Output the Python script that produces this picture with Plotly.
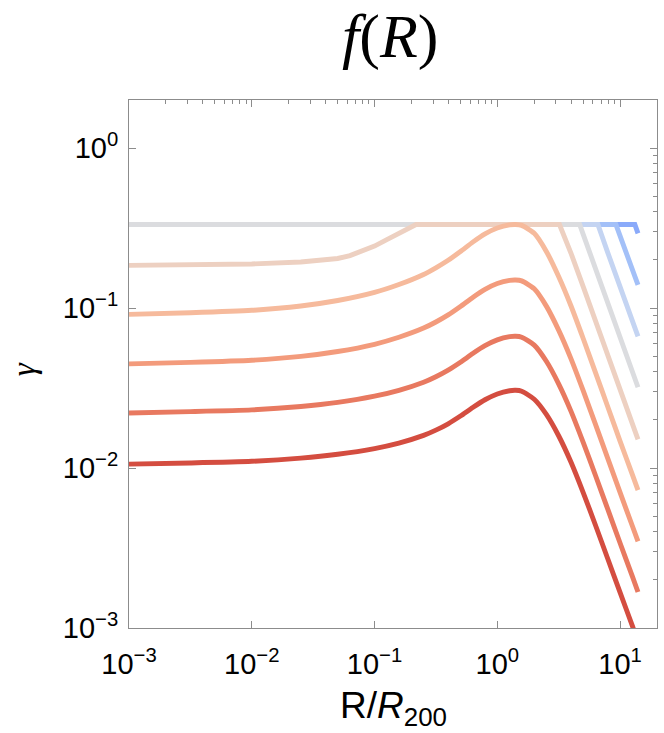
import plotly.graph_objects as go

# ---- data (R / R200 on x, gamma on y) ----
r_smooth = [0.001, 0.00316, 0.01, 0.0251, 0.0501, 0.1, 0.158, 0.251, 0.316, 0.398, 0.501,
            0.631, 0.794, 1.0, 1.26, 1.41, 1.58, 2.0, 2.51, 3.16, 3.98, 5.01, 6.31, 7.94,
            10.0, 12.6, 14.0]

gamma_1 = [0.01058, 0.01076, 0.01102, 0.01153, 0.01219, 0.01324, 0.01432, 0.01600, 0.01726,
           0.01892, 0.02113, 0.02390, 0.02673, 0.02906, 0.03043, 0.03062, 0.03020, 0.02694,
           0.02165, 0.01592, 0.01090, 0.00702, 0.00439, 0.00271, 0.00167, 0.00103, 0.000826]
gamma_2 = [0.02211, 0.02252, 0.02309, 0.02425, 0.02573, 0.02813, 0.03061, 0.03441, 0.03724,
           0.04096, 0.04587, 0.05200, 0.05821, 0.06330, 0.06628, 0.06668, 0.06577, 0.05868,
           0.04650, 0.03361, 0.02270, 0.01447, 0.00898, 0.00553, 0.00340, 0.00210, 0.00168]
gamma_3 = [0.04481, 0.04579, 0.04721, 0.04993, 0.05354, 0.05942, 0.06572, 0.07500, 0.08186,
           0.09070, 0.10233, 0.11659, 0.13092, 0.14239, 0.14910, 0.14997, 0.14791, 0.13197,
           0.10287, 0.07283, 0.04836, 0.03047, 0.01875, 0.01150, 0.00704, 0.00434, 0.00348]
gamma_4 = [0.09130, 0.09354, 0.09685, 0.10308, 0.11151, 0.12540, 0.14046, 0.16238, 0.17857,
           0.19902, 0.22585, 0.25852, 0.29107, 0.31659, 0.33152, 0.33330, 0.32885, 0.29343,
           0.22595, 0.15754, 0.10344, 0.06455, 0.03951, 0.02416, 0.01474, 0.00909, 0.00728]

r_5 = [0.001, 0.00316, 0.01, 0.0251, 0.0398, 0.0501, 0.0631, 0.0794, 0.1, 0.126, 0.158, 0.2,
       0.218, 3.21, 3.55, 3.98, 5.01, 6.31, 7.94, 10.0, 12.6, 14.0]
gamma_5 = [0.1849, 0.1862, 0.1888, 0.1941, 0.1995, 0.2042, 0.2128, 0.2259, 0.2443, 0.2679,
           0.2938, 0.3221, 0.3333, 0.3333, 0.2773, 0.2210, 0.1361, 0.0827, 0.0503, 0.0306,
           0.01886, 0.0151]

r_6 = [0.001, 4.69, 5.01, 6.31, 7.94, 10.0, 12.6, 14.0]
gamma_6 = [0.3333, 0.3333, 0.2893, 0.1748, 0.1062, 0.0643, 0.0397, 0.0320]

r_7 = [0.001, 6.6, 7.94, 10.0, 12.6, 14.0]
gamma_7 = [0.3333, 0.3333, 0.2223, 0.1347, 0.0831, 0.0665]

r_8 = [0.001, 9.25, 10.0, 12.6, 14.0]
gamma_8 = [0.3333, 0.3333, 0.2828, 0.1744, 0.1396]

r_9 = [0.001, 13.2, 14.0]
gamma_9 = [0.3333, 0.3333, 0.293]

line_colors = ["#d44d40", "#e87960", "#f39b7c", "#f6ba9c", "#edd0c1",
               "#dbdcdf", "#c4d4f2", "#a3c0f8", "#8aaafa"]

tick_vals_x = [1e-3, 1e-2, 1e-1, 1, 10]
tick_text_x = ["10<sup>−3</sup>", "10<sup>−2</sup>", "10<sup>−1</sup>", "10<sup>0</sup>", "10<sup>1</sup>"]
tick_vals_y = [1e-3, 1e-2, 1e-1, 1]
tick_text_y = ["10<sup>−3</sup>", "10<sup>−2</sup>", "10<sup>−1</sup>", "10<sup>0</sup>"]

series = [
    (r_smooth, gamma_1, "spline"),
    (r_smooth, gamma_2, "spline"),
    (r_smooth, gamma_3, "spline"),
    (r_smooth, gamma_4, "spline"),
    (r_5, gamma_5, "linear"),
    (r_6, gamma_6, "linear"),
    (r_7, gamma_7, "linear"),
    (r_8, gamma_8, "linear"),
    (r_9, gamma_9, "linear"),
]

fig = go.Figure()
# bluest drawn first so the redder curves lie on top; the last (reddest) one
# is drawn on the overlay axes pair that carries the top/right minor ticks
for i in reversed(range(len(series))):
    xs, ys, shape = series[i]
    on_overlay = (i == 0)
    fig.add_trace(go.Scatter(
        x=xs, y=ys, mode="lines",
        line=dict(color=line_colors[i], width=4.9, shape=shape,
                  smoothing=0.6 if shape == "spline" else None),
        xaxis="x2" if on_overlay else "x", yaxis="y2" if on_overlay else "y",
        showlegend=False, hoverinfo="skip"))

FRAME = "#8c8c8c"
TICKFONT = dict(family="Liberation Sans, Arial, sans-serif", size=29, color="black")
X_RANGE = [-3, 1.30103]
Y_RANGE = [-3, 0.30103]

fig.update_layout(
    width=664, height=733,
    margin=dict(l=129, r=7, t=100, b=105, autoexpand=False),
    paper_bgcolor="white", plot_bgcolor="white",
    xaxis=dict(type="log", range=X_RANGE, tickvals=tick_vals_x, ticktext=tick_text_x,
               showgrid=False, zeroline=False, automargin=False,
               showline=True, linecolor=FRAME, linewidth=1, mirror=True,
               ticks="inside", ticklen=7, tickwidth=1, tickcolor=FRAME,
               ticklabelstandoff=10, tickfont=TICKFONT),
    yaxis=dict(type="log", range=Y_RANGE, tickvals=tick_vals_y, ticktext=tick_text_y,
               showgrid=False, zeroline=False, automargin=False,
               showline=True, linecolor=FRAME, linewidth=1, mirror=True,
               ticks="inside", ticklen=7, tickwidth=1, tickcolor=FRAME,
               ticklabelstandoff=4, tickfont=TICKFONT),
    xaxis2=dict(type="log", range=X_RANGE, overlaying="x", side="top", anchor="y2",
                showgrid=False, zeroline=False, showline=False, showticklabels=False,
                automargin=False, tickvals=tick_vals_x,
                ticks="inside", ticklen=7, tickwidth=1, tickcolor=FRAME,
                minor=dict(ticks="inside", ticklen=4, tickwidth=1, tickcolor=FRAME, dtick="D1")),
    yaxis2=dict(type="log", range=Y_RANGE, overlaying="y", side="right", anchor="x2",
                showgrid=False, zeroline=False, showline=False, showticklabels=False,
                automargin=False, tickvals=tick_vals_y,
                ticks="inside", ticklen=7, tickwidth=1, tickcolor=FRAME,
                minor=dict(ticks="inside", ticklen=4, tickwidth=1, tickcolor=FRAME, dtick="D1")),
    annotations=[
        dict(text="<i>f</i>(<i>R</i>)", xref="paper", yref="paper", x=0.495, y=1.121,
             xanchor="center", yanchor="middle", showarrow=False,
             font=dict(family="Liberation Serif, Times New Roman, serif", size=62, color="black")),
        dict(text="R/<i>R</i><sub>200</sub>", xref="paper", yref="paper", x=0.5, y=-0.1515,
             xanchor="center", yanchor="middle", showarrow=False,
             font=dict(family="Liberation Sans, Arial, sans-serif", size=37, color="black")),
        dict(text="<i>γ</i>", xref="paper", yref="paper", x=-0.199, y=0.49,
             xanchor="center", yanchor="middle", showarrow=False, textangle=-90,
             font=dict(family="Liberation Serif, Times New Roman, serif", size=33, color="black")),
    ],
)

# remove the browser's default 8px page margin so the figure sits at the window origin
fig.write_html("out.html", config={"displayModeBar": False},
               post_script="document.body.style.margin='0';")
